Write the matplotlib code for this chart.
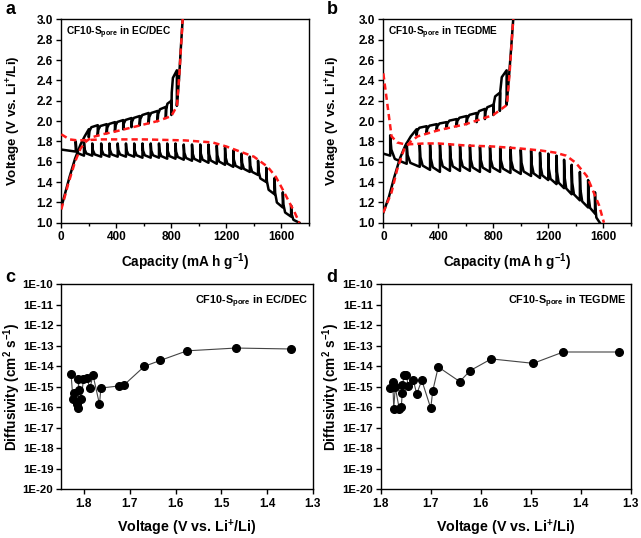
import numpy as np
import matplotlib
matplotlib.use("Agg")
import matplotlib.pyplot as plt
from matplotlib.ticker import MultipleLocator, FixedLocator, FuncFormatter

plt.rcParams["font.family"] = ["Liberation Sans", "DejaVu Sans"]
plt.rcParams["font.weight"] = "bold"
plt.rcParams["axes.labelweight"] = "bold"
plt.rcParams["mathtext.fontset"] = "custom"
plt.rcParams["mathtext.rm"] = "Liberation Sans:bold"
plt.rcParams["mathtext.bf"] = "Liberation Sans:bold"
plt.rcParams["mathtext.it"] = "Liberation Sans:bold:italic"

# ---- panel a (EC/DEC) GITT ----
a_dis_q = [0, 105, 165, 225, 290, 350, 410, 470, 530, 590, 650, 710, 770, 830, 890,
           950, 1010, 1070, 1130, 1190, 1250, 1310, 1370, 1430, 1490, 1550, 1610, 1670, 1730]
a_dis_start = 1.72
a_dis_low = [1.70, 1.66, 1.66, 1.65, 1.65, 1.65, 1.65, 1.65, 1.64, 1.64, 1.64, 1.63, 1.63, 1.62,
             1.61, 1.60, 1.59, 1.58, 1.57, 1.55, 1.53, 1.50, 1.47, 1.40, 1.28, 1.15, 1.06, 1.00]
a_dis_high = [1.80, 1.79, 1.78, 1.78, 1.78, 1.78, 1.78, 1.78, 1.78, 1.78, 1.78, 1.78, 1.78, 1.77,
              1.77, 1.77, 1.77, 1.76, 1.74, 1.71, 1.68, 1.65, 1.61, 1.54, 1.44, 1.30, 1.17]
a_dis_eq_q = [0, 60, 120, 300, 600, 900, 1100, 1200, 1300, 1400, 1500, 1560, 1600, 1650, 1700, 1730]
a_dis_eq_v = [1.87, 1.82, 1.81, 1.82, 1.82, 1.81, 1.79, 1.75, 1.70, 1.65, 1.55, 1.45, 1.35, 1.22, 1.09, 1.00]

a_chg_rise_q = [0, 30, 60, 100, 140, 170, 200]
a_chg_rise_v = [1.15, 1.30, 1.45, 1.63, 1.77, 1.85, 1.92]
a_chg_q = [200, 265, 330, 390, 450, 510, 570, 635, 700, 760, 800, 840]
a_chg_low = [1.84, 1.86, 1.88, 1.90, 1.92, 1.94, 1.96, 1.98, 2.00, 2.03, 2.06, 2.15]
a_chg_high = [1.96, 1.97, 1.99, 2.01, 2.03, 2.05, 2.08, 2.10, 2.14, 2.20, 2.50]
a_chg_end_q = [840, 855, 868, 882, 890]
a_chg_end_v = [2.15, 2.40, 2.70, 3.00, 3.20]
a_chg_eq_q = [0, 50, 100, 140, 180, 220, 300, 400, 550, 700, 800, 841, 860, 882, 890]
a_chg_eq_v = [1.13, 1.38, 1.60, 1.73, 1.80, 1.84, 1.87, 1.90, 1.95, 2.00, 2.05, 2.15, 2.50, 3.00, 3.20]

# ---- panel b (TEGDME) GITT ----
b_dis_q = [0, 50, 170, 265, 340, 412, 485, 558, 630, 703, 776, 850, 925, 1000, 1075,
           1140, 1200, 1260, 1315, 1370, 1430, 1490, 1540, 1575]
b_dis_start = 1.68
b_dis_low = [1.66, 1.58, 1.55, 1.52, 1.50, 1.51, 1.51, 1.51, 1.50, 1.50, 1.50, 1.49, 1.48, 1.46,
             1.44, 1.42, 1.38, 1.34, 1.28, 1.22, 1.15, 1.09, 1.00]
b_dis_high = [1.86, 1.78, 1.77, 1.77, 1.77, 1.77, 1.76, 1.76, 1.75, 1.75, 1.74, 1.74, 1.72, 1.71,
              1.69, 1.68, 1.66, 1.62, 1.57, 1.50, 1.42, 1.30]
b_dis_eq_q = [0, 60, 100, 160, 300, 400, 600, 800, 1000, 1150, 1250, 1330, 1400, 1480, 1530, 1570, 1605]
b_dis_eq_v = [2.47, 1.85, 1.79, 1.77, 1.78, 1.78, 1.76, 1.75, 1.73, 1.71, 1.69, 1.66, 1.59, 1.46, 1.30, 1.17, 1.00]

b_chg_rise_q = [0, 40, 80, 120, 160, 200, 242]
b_chg_rise_v = [1.10, 1.25, 1.45, 1.63, 1.76, 1.85, 1.92]
b_chg_q = [242, 315, 388, 460, 533, 606, 679, 739, 800, 848, 897]
b_chg_low = [1.86, 1.88, 1.91, 1.93, 1.95, 1.97, 1.99, 2.02, 2.06, 2.10, 2.16]
b_chg_high = [1.95, 1.97, 1.99, 2.02, 2.05, 2.08, 2.12, 2.16, 2.28, 2.50]
b_chg_end_q = [897, 915, 930, 945, 955]
b_chg_end_v = [2.16, 2.45, 2.72, 3.00, 3.20]
b_chg_eq_q = [0, 60, 100, 150, 200, 250, 400, 600, 800, 900, 920, 945, 955]
b_chg_eq_v = [1.10, 1.30, 1.52, 1.72, 1.80, 1.85, 1.91, 1.97, 2.06, 2.16, 2.50, 3.00, 3.20]

# ---- panel c / d diffusivity ----
c_volt = [1.828, 1.824, 1.822, 1.816, 1.812, 1.812, 1.811, 1.806, 1.801, 1.794, 1.787,
          1.780, 1.766, 1.763, 1.724, 1.713, 1.668, 1.633, 1.575, 1.468, 1.347]
c_diff = [4.1e-15, 2.5e-16, 5.2e-16, 1.45e-16, 9.5e-17, 2.4e-15, 7e-16, 2.5e-16, 2.4e-15,
          2.8e-15, 8.7e-16, 3.6e-15, 1.4e-16, 8.7e-16, 1.1e-15, 1.2e-15, 1e-14, 1.95e-14,
          5.7e-14, 7.8e-14, 7e-14]
d_volt = [1.782, 1.776, 1.774, 1.771, 1.763, 1.759, 1.757, 1.757, 1.753, 1.749, 1.745, 1.735,
          1.728, 1.718, 1.700, 1.696, 1.685, 1.642, 1.621, 1.579, 1.495, 1.435, 1.324]
d_diff = [8.5e-16, 1.8e-15, 8.5e-17, 9.5e-16, 8.5e-17, 1e-16, 4.8e-16, 1.2e-15, 3.6e-15,
          3.9e-15, 1.1e-15, 2.1e-15, 4.5e-16, 2.1e-15, 9e-17, 6.4e-16, 9.3e-15, 1.8e-15,
          6.2e-15, 2.3e-14, 1.4e-14, 5e-14, 5e-14]

labels_top = [r"CF10-S$_{\mathrm{pore}}$ in EC/DEC", r"CF10-S$_{\mathrm{pore}}$ in TEGDME"]


def discharge_path(q, start, low, high):
    xs, ys = [q[0]], [start]
    for i in range(1, len(q)):
        if i > 1:
            top = high[i - 2]
            dq = q[i] - q[i - 1]
            d = top - low[i - 1]
            xs += [q[i - 1] + 0.07 * dq, q[i - 1] + 0.28 * dq]
            ys += [low[i - 1] + 0.5 * d, low[i - 1] + 0.17 * d]
        xs.append(q[i]); ys.append(low[i - 1])
        if i - 1 < len(high):
            xs.append(q[i]); ys.append(high[i - 1])
    return xs, ys


def charge_path(rq, rv, q, low, high, eq, ev):
    xs, ys = list(rq), list(rv)
    for i in range(len(q)):
        xs.append(q[i]); ys.append(low[i])
        if i < len(high):
            dq = q[i + 1] - q[i]
            d = high[i] - low[i]
            xs += [q[i] + 0.07 * dq, q[i] + 0.28 * dq, q[i + 1]]
            ys += [low[i] + 0.5 * d, low[i] + 0.83 * d, high[i]]
    xs += list(eq[1:]); ys += list(ev[1:])
    return xs, ys


fig = plt.figure(figsize=(6.41, 5.38), dpi=100)
ax_a = fig.add_axes([0.0956, 0.586, 0.3864, 0.3778])
ax_b = fig.add_axes([0.598, 0.586, 0.386, 0.3778])
ax_c = fig.add_axes([0.0952, 0.0905, 0.393, 0.381])
ax_d = fig.add_axes([0.594, 0.0905, 0.390, 0.381])

gitt = [
    (ax_a, a_dis_q, a_dis_start, a_dis_low, a_dis_high, a_dis_eq_q, a_dis_eq_v,
     a_chg_rise_q, a_chg_rise_v, a_chg_q, a_chg_low, a_chg_high, a_chg_end_q, a_chg_end_v,
     a_chg_eq_q, a_chg_eq_v),
    (ax_b, b_dis_q, b_dis_start, b_dis_low, b_dis_high, b_dis_eq_q, b_dis_eq_v,
     b_chg_rise_q, b_chg_rise_v, b_chg_q, b_chg_low, b_chg_high, b_chg_end_q, b_chg_end_v,
     b_chg_eq_q, b_chg_eq_v),
]
for k, (ax, dq, ds, dl, dh, deq, dev, rq, rv, cq, cl, ch, eq, ev, ceq, cev) in enumerate(gitt):
    x, y = discharge_path(dq, ds, dl, dh)
    ax.plot(x, y, color="black", lw=1.8, zorder=2, solid_joinstyle="round")
    x, y = charge_path(rq, rv, cq, cl, ch, eq, ev)
    ax.plot(x, y, color="black", lw=1.8, zorder=2, solid_joinstyle="round")
    ax.plot(deq, dev, color="#ff1a1a", lw=1.8, ls=(0, (2.5, 1.6)), zorder=3)
    ax.plot(ceq, cev, color="#ff1a1a", lw=1.8, ls=(0, (2.5, 1.6)), zorder=3)
    ax.set_xlim(0, 1800)
    ax.set_ylim(1.0, 3.0)
    ax.xaxis.set_major_locator(MultipleLocator(400))
    ax.xaxis.set_minor_locator(MultipleLocator(200))
    ax.yaxis.set_major_locator(MultipleLocator(0.2))
    ax.yaxis.set_major_formatter(FuncFormatter(lambda v, p: f"{v:.1f}"))
    ax.set_xlabel(r"Capacity (mA h g$^{-1}$)", fontsize=9.8, labelpad=6)
    ax.set_ylabel(r"Voltage (V vs. Li$^{+}$/Li)", fontsize=9.6, va="center")
    ax.text(0.02, 0.975, labels_top[k], transform=ax.transAxes, fontsize=7.3,
            fontweight="bold", va="top", ha="left")
ax_a.yaxis.set_label_coords(-0.193, 0.5)
ax_b.yaxis.set_label_coords(-0.203, 0.5)

for k, (ax, v, dd) in enumerate([(ax_c, c_volt, c_diff), (ax_d, d_volt, d_diff)]):
    ax.plot(v, dd, color="#444444", lw=0.8, marker="o", ms=5.5, mfc="black", mec="black")
    ax.set_yscale("log")
    ax.set_ylim(1e-20, 1e-10)
    ax.yaxis.set_major_locator(FixedLocator([10.0 ** e for e in range(-20, -9)]))
    ax.yaxis.set_minor_locator(FixedLocator([]))
    ax.yaxis.set_major_formatter(FuncFormatter(lambda val, p: f"1E{int(round(np.log10(val)))}"))
    ax.xaxis.set_major_locator(MultipleLocator(0.1))
    ax.xaxis.set_major_formatter(FuncFormatter(lambda val, p: f"{val:.1f}"))
    ax.set_xlabel(r"Voltage (V vs. Li$^{+}$/Li)", fontsize=10.3, labelpad=6)
    ax.set_ylabel(r"Diffusivity (cm$^{2}$ s$^{-1}$)", fontsize=9.8, va="center")
    ax.text(0.98, 0.955, labels_top[k], transform=ax.transAxes, fontsize=7.8,
            fontweight="bold", va="top", ha="right")
ax_c.set_xlim(1.85, 1.3)
ax_d.set_xlim(1.8, 1.3)
ax_c.yaxis.set_label_coords(-0.194, 0.5)
ax_d.yaxis.set_label_coords(-0.2, 0.5)

for ax in [ax_a, ax_b, ax_c, ax_d]:
    ax.tick_params(which="major", direction="out", length=3.5, width=1, labelsize=8.5,
                   top=False, right=False, pad=2.5)
    ax.tick_params(which="minor", direction="out", length=2, width=1, top=False, right=False)
    for lab in ax.get_xticklabels() + ax.get_yticklabels():
        lab.set_fontweight("bold")
    for s in ax.spines.values():
        s.set_linewidth(1.0)
for ax in [ax_c, ax_d]:
    ax.tick_params(axis="y", which="major", labelsize=8.2, pad=2)

fig.text(10 / 641, 1 - 10 / 538, "a", fontsize=13, fontweight="bold", va="center", ha="center")
fig.text(332 / 641, 1 - 10 / 538, "b", fontsize=13, fontweight="bold", va="center", ha="center")
fig.text(10 / 641, 1 - 277 / 538, "c", fontsize=13, fontweight="bold", va="center", ha="center")
fig.text(332 / 641, 1 - 277 / 538, "d", fontsize=13, fontweight="bold", va="center", ha="center")

fig.savefig("out.png", dpi=100)
